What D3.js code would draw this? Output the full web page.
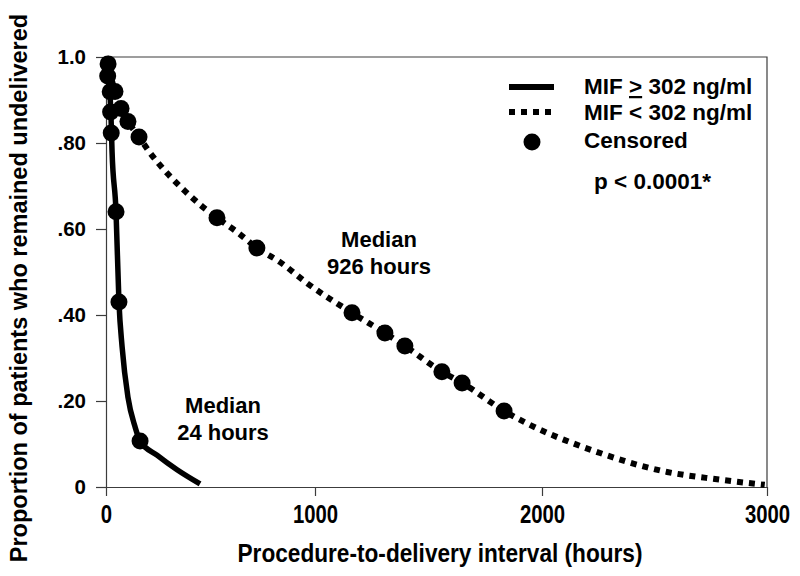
<!DOCTYPE html>
<html>
<head>
<meta charset="utf-8">
<script src="https://cdn.jsdelivr.net/npm/d3@7"></script>
<style>
  body { margin: 0; background: #fff; }
  svg text { font-family: "Liberation Sans", Arial, sans-serif; font-weight: bold; fill: #000; }
  .axis path, .axis line { stroke: #3c3c3c; stroke-width: 1.2; }
</style>
</head>
<body>
<div id="chart"></div>
<script>
// MIF >= 302 ng/ml (solid curve)
const highHours = [0, 10, 18, 24, 29, 48, 62, 77, 105, 139, 163, 244, 340, 450];
const highProp  = [1.0, 0.985, 0.93, 0.86, 0.78, 0.64, 0.43, 0.326, 0.209, 0.14, 0.107, 0.074, 0.04, 0.007];
const highCensHours = [10, 8, 20, 22, 25, 48, 62, 163];
const highCensProp  = [0.984, 0.956, 0.919, 0.872, 0.823, 0.64, 0.43, 0.107];

// MIF < 302 ng/ml (dotted curve)
const lowHours = [0, 20, 43, 72, 105, 158, 211, 292, 378, 464, 531, 627, 722, 833, 962, 1163, 1308, 1396, 1559, 1648, 1833, 2258, 2556, 2778, 2990];
const lowProp  = [1.0, 0.96, 0.92, 0.88, 0.85, 0.814, 0.777, 0.73, 0.688, 0.651, 0.626, 0.593, 0.556, 0.523, 0.474, 0.405, 0.358, 0.328, 0.268, 0.242, 0.177, 0.079, 0.035, 0.018, 0.005];
const lowCensHours = [43, 72, 105, 158, 531, 722, 1163, 1308, 1396, 1559, 1648, 1833];
const lowCensProp  = [0.92, 0.88, 0.85, 0.814, 0.626, 0.556, 0.405, 0.358, 0.328, 0.268, 0.242, 0.177];

const xTicks = [0, 1000, 2000, 3000];
const yTicks = [0, 0.2, 0.4, 0.6, 0.8, 1.0];
const yTickLabels = ['0', '.20', '.40', '.60', '.80', '1.0'];

const width = 800, height = 576;

const svg = d3.select('#chart').append('svg')
    .attr('width', width)
    .attr('height', height);

// the scanned axis is a little uneven, so follow its tick marks
const x = d3.scaleLinear().domain(xTicks).range([106, 315, 542, 767]);
const y = d3.scaleLinear().domain([0, 1]).range([487, 57]);

// frame
svg.append('path')
  .attr('d', `M${x(0)},${y(1)}H${x(3000)}V${y(0)}`)
  .attr('fill', 'none')
  .attr('stroke', '#3c3c3c')
  .attr('stroke-width', 1.2);

// x labels in the original are a condensed face; squeeze them to match
const xAxis = svg.append('g')
  .attr('class', 'axis')
  .attr('transform', `translate(0,${y(0)})`)
  .call(d3.axisBottom(x).tickValues(xTicks).tickSize(9).tickSizeOuter(0).tickFormat(d3.format('d')));
xAxis.selectAll('text')
  .style('font-size', '25px')
  .attr('y', 18)
  .attr('textLength', (d) => String(d).length * 11.3)
  .attr('lengthAdjust', 'spacingAndGlyphs');

const yAxis = svg.append('g')
  .attr('class', 'axis')
  .attr('transform', `translate(${x(0)},0)`)
  .call(d3.axisLeft(y).tickValues(yTicks).tickSize(10).tickSizeOuter(0).tickFormat((d, i) => yTickLabels[i]));
yAxis.selectAll('text')
  .style('font-size', '20.5px')
  .attr('x', -20);

const line = d3.line()
  .x((d) => x(d[0]))
  .y((d) => y(d[1]))
  .curve(d3.curveMonotoneX);

svg.append('path')
  .datum(d3.zip(highHours, highProp))
  .attr('d', line)
  .attr('fill', 'none')
  .attr('stroke', '#000')
  .attr('stroke-width', 5.5);

svg.append('path')
  .datum(d3.zip(lowHours, lowProp))
  .attr('d', line)
  .attr('fill', 'none')
  .attr('stroke', '#000')
  .attr('stroke-width', 6)
  .attr('stroke-dasharray', '6,6');

svg.selectAll('circle.cens')
  .data(d3.zip(highCensHours, highCensProp).concat(d3.zip(lowCensHours, lowCensProp)))
  .enter().append('circle')
  .attr('class', 'cens')
  .attr('cx', (d) => x(d[0]))
  .attr('cy', (d) => y(d[1]))
  .attr('r', 8.5)
  .attr('fill', '#000');

// axis titles
svg.append('text')
  .attr('x', 440)
  .attr('y', 562)
  .attr('text-anchor', 'middle')
  .style('font-size', '25px')
  .attr('textLength', 405)
  .attr('lengthAdjust', 'spacingAndGlyphs')
  .text('Procedure-to-delivery interval (hours)');

svg.append('text')
  .attr('transform', 'translate(27,288) rotate(-90)')
  .attr('text-anchor', 'middle')
  .style('font-size', '23.5px')
  .text('Proportion of patients who remained undelivered');

// legend
const legend = svg.append('g');
legend.append('line')
  .attr('x1', 509).attr('x2', 554).attr('y1', 87).attr('y2', 87)
  .attr('stroke', '#000').attr('stroke-width', 6);
legend.append('line')
  .attr('x1', 509).attr('x2', 556).attr('y1', 112).attr('y2', 112)
  .attr('stroke', '#000').attr('stroke-width', 6).attr('stroke-dasharray', '6,6');
legend.append('circle')
  .attr('cx', 532).attr('cy', 142).attr('r', 8.5).attr('fill', '#000');

const t1 = legend.append('text').attr('x', 584).attr('y', 94).style('font-size', '22.5px');
t1.append('tspan').text('MIF ');
t1.append('tspan').style('text-decoration', 'underline').text('>');
t1.append('tspan').text(' 302 ng/ml');
legend.append('text').attr('x', 584).attr('y', 120).style('font-size', '22.5px').text('MIF < 302 ng/ml');
legend.append('text').attr('x', 584).attr('y', 148).style('font-size', '22.5px').text('Censored');
legend.append('text').attr('x', 594).attr('y', 189).style('font-size', '22.5px').text('p < 0.0001*');

// median notes
const notes = [
  {x: 379, y: 247, lines: ['Median', '926 hours']},
  {x: 223, y: 413, lines: ['Median', '24 hours']}
];
notes.forEach((n) => {
  const t = svg.append('text')
    .attr('x', n.x).attr('y', n.y)
    .attr('text-anchor', 'middle')
    .style('font-size', '22px');
  n.lines.forEach((s, i) => t.append('tspan').attr('x', n.x).attr('dy', i ? 27 : 0).text(s));
});
</script>
</body>
</html>
